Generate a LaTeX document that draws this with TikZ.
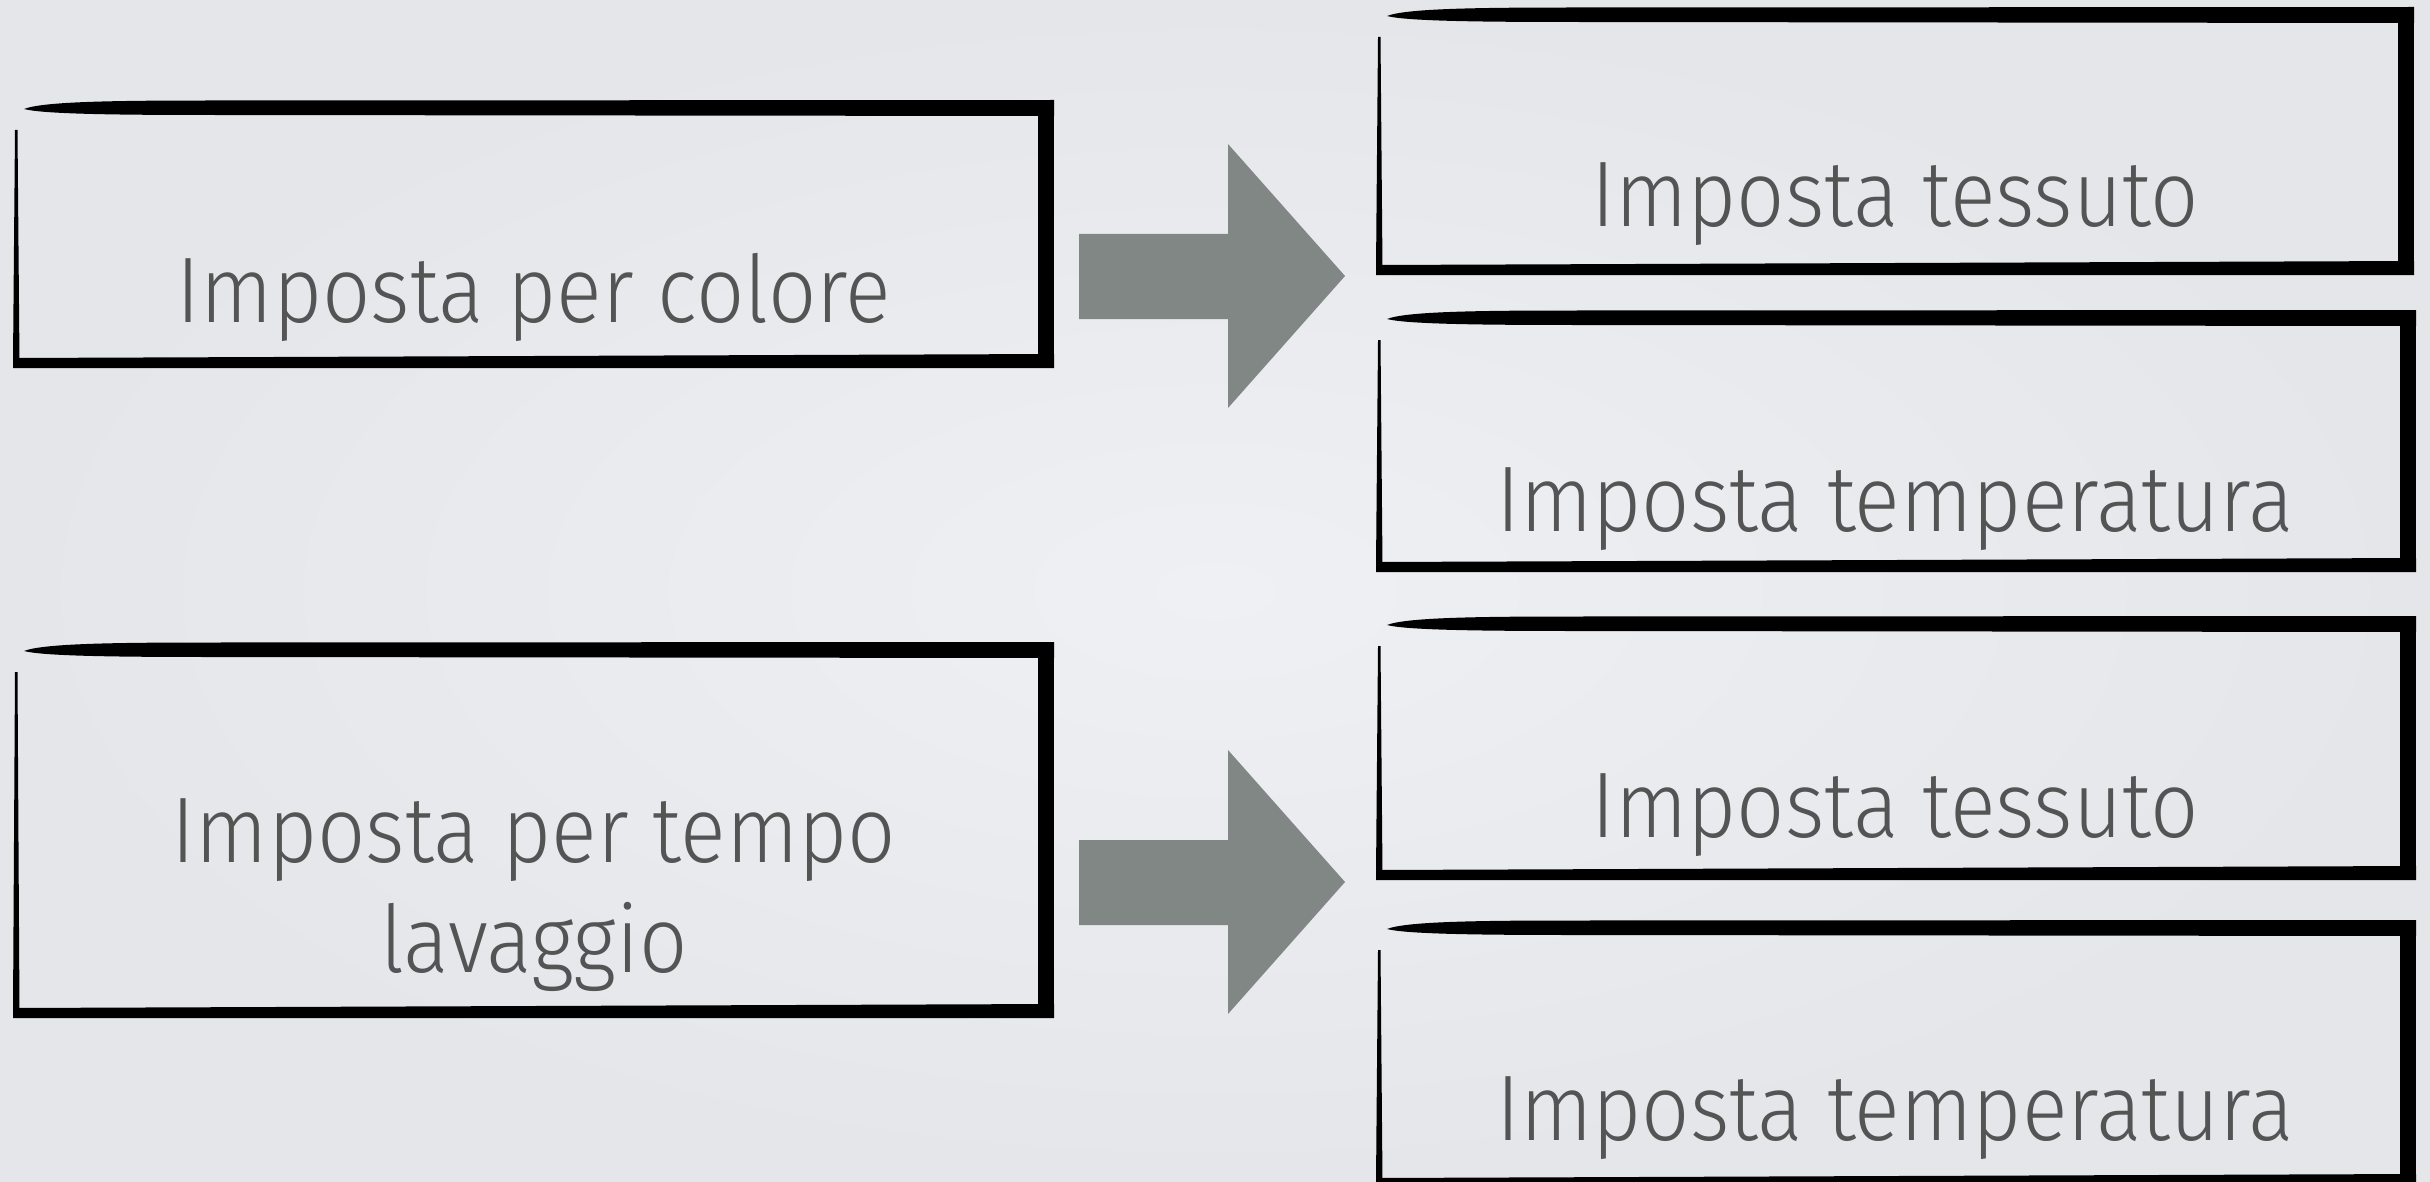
\documentclass[tikz,border=0pt]{standalone}
\usepackage{fontspec}
\setmainfont{Fira Sans Light}[FakeStretch=0.91]
\definecolor{bgin}{HTML}{EEF0F3}
\definecolor{bgout}{HTML}{E4E6E9}
\definecolor{txtgray}{HTML}{545454}
\definecolor{arrowgray}{HTML}{818784}
\tikzset{
  lbl/.style={text=txtgray, font=\fontsize{26.5}{31}\selectfont, inner sep=0pt, anchor=base, align=center},
  bigarrow/.style={fill=arrowgray},
  brush/.style={fill=black},
}
% brush-stroke frame: left, top, right, bottom (pixels)
\newcommand\brushbox[4]{%
  \fill[brush] (#1+11,#2+9) .. controls (#1+30,#2+1.5) and (#1+100,#2+0.5) .. (#1+200,#2+0.5)
     -- (#3,#2) -- (#3,#2+16) -- (#1+200,#2+15)
     .. controls (#1+100,#2+15) and (#1+30,#2+14) .. (#1+11,#2+9) -- cycle;
  \fill[brush] (#1+2,#2+30) -- (#1+4.5,#2+30) -- (#1+6.5,#4-6) -- (#1,#4-6) -- cycle;
  \fill[brush] (#3-16,#2) rectangle (#3,#4);
  \fill[brush] (#1,#4-10) -- (#3,#4-14) -- (#3,#4) -- (#1,#4) -- cycle;
}
\begin{document}
\begin{tikzpicture}[x=0.01cm,y=-0.01cm]
\useasboundingbox (0,0) rectangle (2430,1182);
\shade[inner color=bgin, outer color=bgout] (0,0) rectangle (2430,1182);

% left boxes
\brushbox{13}{100}{1054}{368}
\node[lbl] (colore) at (534,322) {Imposta per colore};
\brushbox{13}{642}{1054}{1018}
\node[lbl] (tempo) at (534,972) {Imposta per tempo\\lavaggio};

% right boxes
\brushbox{1376}{7}{2414}{275}
\node[lbl] (tess1) at (1895,227) {Imposta tessuto};
\brushbox{1376}{310}{2416}{572}
\node[lbl] (temp1) at (1895,531) {Imposta temperatura};
\brushbox{1376}{616}{2416}{880}
\node[lbl] (tess2) at (1895,837) {Imposta tessuto};
\brushbox{1376}{920}{2416}{1188}
\node[lbl] (temp2) at (1895,1140) {Imposta temperatura};

% arrows
\fill[bigarrow] (1079,234) -- (1228,234) -- (1228,144) -- (1345,276) -- (1228,408) -- (1228,319) -- (1079,319) -- cycle;
\fill[bigarrow] (1079,840) -- (1228,840) -- (1228,750) -- (1345,882) -- (1228,1014) -- (1228,925) -- (1079,925) -- cycle;
\end{tikzpicture}
\end{document}
